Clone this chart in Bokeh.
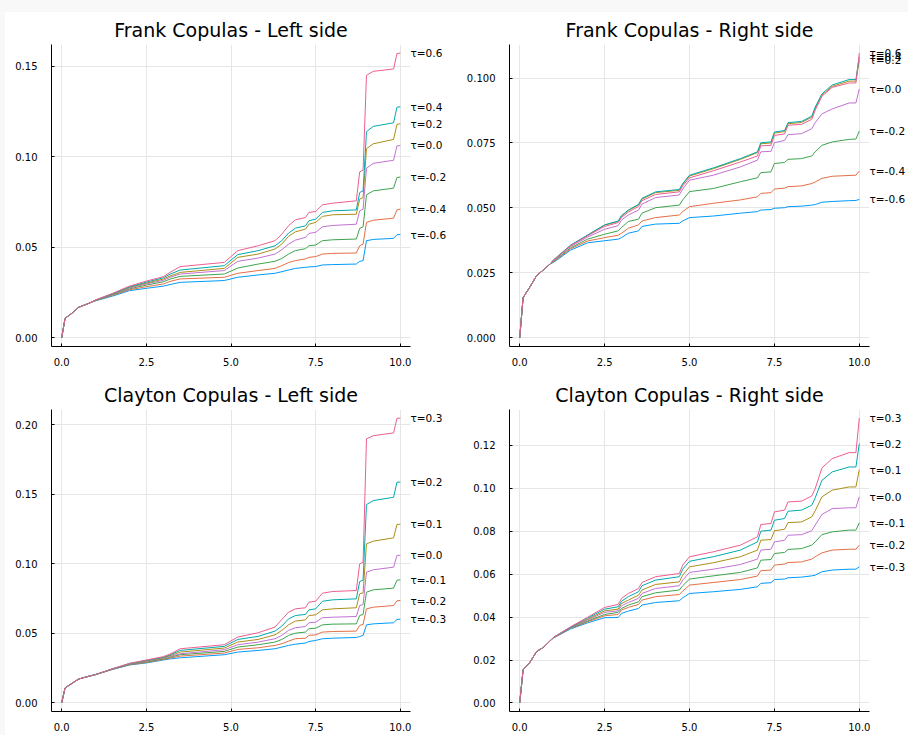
from bokeh.plotting import figure
from bokeh.layouts import column, row
from bokeh.models import Range1d, LinearAxis, FixedTicker, PrintfTickFormatter, Spacer
from bokeh.embed import file_html
from bokeh.resources import INLINE

# ---------------- data ----------------
TAU_FRANK = [-0.6, -0.4, -0.2, 0.0, 0.2, 0.4, 0.6]
TAU_CLAYTON = [-0.3, -0.2, -0.1, 0.0, 0.1, 0.2, 0.3]

X_TICKS = [0.0, 2.5, 5.0, 7.5, 10.0]
FL_YTICKS = [0.00, 0.05, 0.10, 0.15]
FR_YTICKS = [0.000, 0.025, 0.050, 0.075, 0.100]
CL_YTICKS = [0.00, 0.05, 0.10, 0.15, 0.20]
CR_YTICKS = [0.00, 0.02, 0.04, 0.06, 0.08, 0.10, 0.12]

# Left-side panels share these x positions
LEFT_X = [0, 0.1, 0.3, 0.5, 0.8, 1.0, 1.5, 2.0, 2.5, 3.0, 3.2, 3.5, 4.8, 5.2, 5.8, 6.3,
          6.5, 6.7, 6.9, 7.2, 7.3, 7.5, 7.7, 8.0, 8.7, 8.8, 8.9, 9.0, 9.2, 9.8, 9.9, 10.0]
# Right-side panels share these x positions
RIGHT_X = [0, 0.1, 0.3, 0.5, 0.7, 0.9, 1.0, 1.5, 2.0, 2.5, 2.9, 3.0, 3.2, 3.5, 3.6, 4.0,
           4.7, 4.8, 5.0, 5.7, 6.5, 7.0, 7.1, 7.4, 7.5, 7.8, 7.9, 8.3, 8.6, 8.7, 8.9, 9.2,
           9.7, 9.9, 10.0]

# Frank copulas - left side
FL_M06 = [0, .0108, .0136, .0169, .0191, .0205, .0231, .0261, .0274, .0286, .0295, .0307, .0317, .0335, .0348, .0357,
          .0366, .0375, .0384, .0390, .0392, .0394, .0403, .0405, .0408, .0423, .0427, .0537, .0544, .0550, .0570, .0571]
FL_M04 = [0, .0108, .0136, .0169, .0191, .0206, .0235, .0266, .0283, .0298, .0312, .0326, .0335, .0357, .0372, .0384,
          .0399, .0416, .0427, .0436, .0445, .0449, .0463, .0467, .0469, .0509, .0518, .0638, .0650, .0661, .0707, .0711]
FL_M02 = [0, .0108, .0136, .0169, .0191, .0207, .0238, .0271, .0292, .0310, .0325, .0340, .0353, .0386, .0408, .0423,
          .0439, .0463, .0482, .0493, .0509, .0513, .0537, .0542, .0546, .0605, .0614, .0790, .0812, .0827, .0885, .0889]
FL_P00 = [0, .0108, .0136, .0169, .0191, .0208, .0240, .0275, .0298, .0318, .0335, .0353, .0372, .0423, .0441, .0463,
          .0487, .0518, .0540, .0555, .0577, .0583, .0614, .0621, .0628, .0702, .0711, .0937, .0964, .0981, .1060, .1063]
FL_P02 = [0, .0108, .0136, .0169, .0191, .0208, .0242, .0279, .0303, .0325, .0342, .0362, .0384, .0445, .0463, .0491,
          .0518, .0561, .0586, .0601, .0628, .0638, .0671, .0680, .0683, .0766, .0775, .1045, .1072, .1096, .1179, .1183]
FL_P04 = [0, .0108, .0136, .0169, .0191, .0209, .0244, .0282, .0308, .0332, .0352, .0375, .0399, .0460, .0482, .0509,
          .0537, .0579, .0606, .0619, .0647, .0656, .0693, .0702, .0707, .0803, .0812, .1139, .1168, .1188, .1274, .1276]
FL_P06 = [0, .0108, .0136, .0169, .0191, .0210, .0246, .0286, .0314, .0338, .0362, .0394, .0417, .0482, .0509, .0537,
          .0573, .0620, .0652, .0665, .0693, .0698, .0735, .0744, .0757, .0917, .0926, .1450, .1472, .1485, .1570, .1573]

# Frank copulas - right side
FR_M06 = [0, .0155, .0196, .0240, .0262, .0285, .0291, .0338, .0366, .0374, .0380, .0386, .0403, .0412, .0429, .0438,
          .0441, .0450, .0463, .0469, .0480, .0486, .0492, .0494, .0499, .0501, .0505, .0507, .0511, .0513, .0522, .0525,
          .0528, .0529, .0533]
FR_M04 = [0, .0155, .0196, .0240, .0262, .0285, .0293, .0343, .0373, .0386, .0395, .0403, .0422, .0435, .0450, .0463,
          .0473, .0486, .0505, .0518, .0531, .0543, .0556, .0559, .0573, .0576, .0582, .0585, .0594, .0600, .0614, .0622,
          .0625, .0626, .0642]
FR_M02 = [0, .0155, .0196, .0240, .0262, .0285, .0295, .0347, .0380, .0399, .0412, .0425, .0448, .0457, .0480, .0501,
          .0511, .0531, .0563, .0575, .0601, .0616, .0636, .0639, .0671, .0675, .0687, .0690, .0700, .0716, .0741, .0754,
          .0764, .0765, .0796]
FR_P00 = [0, .0155, .0196, .0240, .0262, .0285, .0298, .0352, .0388, .0418, .0432, .0454, .0473, .0492, .0515, .0540,
          .0550, .0573, .0607, .0626, .0658, .0684, .0716, .0718, .0751, .0760, .0782, .0786, .0805, .0828, .0862, .0881,
          .0904, .0904, .0958]
FR_P02 = [0, .0155, .0196, .0240, .0262, .0285, .0300, .0356, .0395, .0434, .0448, .0469, .0490, .0512, .0534, .0559,
          .0568, .0591, .0623, .0651, .0687, .0713, .0747, .0750, .0788, .0794, .0824, .0829, .0849, .0884, .0934, .0968,
          .0988, .0988, .1068]
FR_P04 = [0, .0155, .0196, .0240, .0262, .0285, .0301, .0357, .0396, .0435, .0450, .0471, .0492, .0514, .0537, .0562,
          .0571, .0594, .0626, .0654, .0690, .0716, .0751, .0754, .0792, .0798, .0828, .0833, .0853, .0888, .0939, .0973,
          .0994, .0994, .1082]
FR_P06 = [0, .0155, .0196, .0240, .0262, .0285, .0300, .0355, .0393, .0429, .0444, .0464, .0484, .0506, .0528, .0552,
          .0562, .0585, .0616, .0643, .0677, .0700, .0739, .0741, .0779, .0785, .0818, .0822, .0841, .0876, .0930, .0964,
          .0981, .0981, .1096]

# Clayton copulas - left side
CL_M03 = [0, .0108, .0140, .0172, .0192, .0204, .0241, .0273, .0288, .0309, .0317, .0325, .0347, .0366, .0378, .0390,
          .0402, .0414, .0423, .0431, .0442, .0450, .0462, .0466, .0471, .0478, .0486, .0562, .0569, .0577, .0601, .0603]
CL_M02 = [0, .0108, .0140, .0172, .0192, .0204, .0242, .0275, .0291, .0313, .0323, .0337, .0359, .0385, .0397, .0414,
          .0426, .0445, .0462, .0466, .0486, .0490, .0510, .0514, .0517, .0558, .0565, .0677, .0689, .0701, .0735, .0737]
CL_M01 = [0, .0108, .0140, .0172, .0192, .0204, .0243, .0277, .0295, .0317, .0329, .0347, .0371, .0402, .0419, .0438,
          .0457, .0486, .0502, .0510, .0534, .0538, .0562, .0567, .0569, .0629, .0637, .0797, .0814, .0826, .0883, .0886]
CL_P00 = [0, .0108, .0140, .0172, .0192, .0204, .0244, .0279, .0299, .0321, .0334, .0354, .0383, .0419, .0438, .0462,
          .0486, .0522, .0541, .0550, .0577, .0581, .0613, .0617, .0622, .0701, .0708, .0941, .0958, .0977, .1061, .1063]
CL_P01 = [0, .0108, .0140, .0172, .0192, .0204, .0245, .0281, .0302, .0325, .0340, .0366, .0395, .0438, .0457, .0490,
          .0522, .0562, .0589, .0598, .0629, .0634, .0670, .0677, .0685, .0785, .0792, .1145, .1164, .1188, .1284, .1286]
CL_P02 = [0, .0108, .0140, .0172, .0192, .0204, .0245, .0283, .0306, .0329, .0346, .0378, .0407, .0457, .0479, .0517,
          .0553, .0605, .0629, .0637, .0670, .0677, .0732, .0742, .0749, .0874, .0883, .1427, .1456, .1480, .1588, .1590]
CL_P03 = [0, .0108, .0140, .0172, .0192, .0204, .0246, .0285, .0309, .0333, .0352, .0390, .0419, .0474, .0505, .0546,
          .0601, .0653, .0677, .0685, .0725, .0732, .0790, .0802, .0809, .1001, .1013, .1900, .1923, .1943, .2048, .2050]

# Clayton copulas - right side
CR_M03 = [0, .0154, .0189, .0240, .0259, .0290, .0303, .0345, .0373, .0397, .0398, .0417, .0428, .0440, .0456, .0468,
          .0476, .0490, .0510, .0518, .0529, .0541, .0557, .0560, .0575, .0577, .0583, .0586, .0592, .0595, .0611, .0619,
          .0623, .0623, .0634]
CR_M02 = [0, .0154, .0189, .0240, .0259, .0290, .0304, .0347, .0378, .0406, .0412, .0433, .0445, .0459, .0479, .0495,
          .0505, .0521, .0549, .0561, .0575, .0591, .0616, .0619, .0642, .0647, .0654, .0657, .0670, .0681, .0699, .0712,
          .0716, .0716, .0735]
CR_M01 = [0, .0154, .0189, .0240, .0259, .0290, .0305, .0348, .0382, .0412, .0422, .0440, .0456, .0471, .0495, .0513,
          .0526, .0546, .0577, .0592, .0608, .0629, .0665, .0668, .0696, .0701, .0715, .0719, .0735, .0750, .0784, .0797,
          .0805, .0805, .0839]
CR_P00 = [0, .0154, .0189, .0240, .0259, .0290, .0305, .0350, .0386, .0422, .0429, .0453, .0468, .0487, .0510, .0533,
          .0546, .0572, .0608, .0623, .0645, .0670, .0712, .0716, .0750, .0758, .0781, .0784, .0802, .0828, .0878, .0905,
          .0909, .0909, .0960]
CR_P01 = [0, .0154, .0189, .0240, .0259, .0290, .0306, .0352, .0390, .0429, .0437, .0464, .0479, .0502, .0526, .0552,
          .0564, .0595, .0634, .0653, .0681, .0712, .0758, .0761, .0802, .0809, .0840, .0843, .0867, .0895, .0960, .0991,
          .1006, .1006, .1087]
CR_P02 = [0, .0154, .0189, .0240, .0259, .0290, .0306, .0353, .0395, .0437, .0448, .0474, .0495, .0518, .0546, .0572,
          .0588, .0623, .0660, .0681, .0712, .0750, .0800, .0805, .0851, .0859, .0893, .0898, .0921, .0955, .1037, .1076,
          .1099, .1099, .1208]
CR_P03 = [0, .0154, .0189, .0240, .0259, .0290, .0306, .0355, .0399, .0445, .0459, .0487, .0510, .0533, .0561, .0588,
          .0603, .0642, .0681, .0704, .0735, .0774, .0831, .0836, .0890, .0898, .0936, .0940, .0964, .0998, .1095, .1138,
          .1166, .1166, .1327]

COLORS = ["#009AFA", "#E36F47", "#3EA44E", "#C371D2", "#AC8E18", "#00AAAE", "#ED5E93"]
FONT = "DejaVu Sans"
PAGE_BG = "#f8f8f8"


def make_panel(title, xs, series, taus, yticks, yfmt, width, height, left, right, top):
    ymax = max(max(s) for s in series)
    pad = 0.03 * ymax
    p = figure(width=width, height=height, output_backend="svg", toolbar_location=None,
               x_range=Range1d(-0.3, 10.3), y_range=Range1d(-pad, ymax + pad),
               min_border_left=left, min_border_right=right, min_border_top=top, min_border_bottom=24)
    p.outline_line_color = None
    p.background_fill_color = "white"
    p.border_fill_color = "white"
    p.title.text = title
    p.title.align = "center"
    p.title.text_font = FONT
    p.title.text_font_size = "19px"
    p.title.text_font_style = "normal"
    p.title.text_color = "black"
    p.title.standoff = 8

    for s, c in zip(series, COLORS):
        p.line(xs, s, line_color=c, line_width=1)

    # end-of-line labels, drawn as the labels of a bare right-hand axis
    ends = [s[-1] for s in series]
    lab_axis = LinearAxis(ticker=FixedTicker(ticks=ends),
                          major_label_overrides={e: "τ=%.1f" % t for e, t in zip(ends, taus)})
    lab_axis.axis_line_color = None
    lab_axis.major_tick_line_color = None
    lab_axis.minor_tick_line_color = None
    lab_axis.major_tick_in = 0
    lab_axis.major_tick_out = 0
    lab_axis.major_label_standoff = 0
    lab_axis.major_label_text_font = FONT
    lab_axis.major_label_text_font_size = "10.5px"
    lab_axis.major_label_text_color = "black"
    p.add_layout(lab_axis, "right")

    p.xaxis.ticker = FixedTicker(ticks=X_TICKS)
    p.xaxis.formatter = PrintfTickFormatter(format="%.1f")
    p.yaxis[0].ticker = FixedTicker(ticks=yticks)
    p.yaxis[0].formatter = PrintfTickFormatter(format=yfmt)
    for ax in (p.xaxis[0], p.yaxis[0]):
        ax.axis_line_color = "black"
        ax.axis_line_width = 1
        ax.major_tick_line_color = "black"
        ax.major_tick_in = 3
        ax.major_tick_out = 0
        ax.minor_tick_line_color = None
        ax.major_label_text_font = FONT
        ax.major_label_text_font_size = "10px"
        ax.major_label_text_color = "black"
    p.xaxis[0].major_label_standoff = 11
    p.yaxis[0].major_label_standoff = 14
    p.xgrid.grid_line_color = "#e6e6e6"
    p.ygrid[0].grid_line_color = "#e6e6e6"
    p.ygrid[0].ticker = p.yaxis[0].ticker
    return p


p1 = make_panel("Frank Copulas - Left side", LEFT_X,
                [FL_M06, FL_M04, FL_M02, FL_P00, FL_P02, FL_P04, FL_P06], TAU_FRANK,
                FL_YTICKS, "%.2f", 453, 358, 46, 48, 32)
p2 = make_panel("Frank Copulas - Right side", RIGHT_X,
                [FR_M06, FR_M04, FR_M02, FR_P00, FR_P02, FR_P04, FR_P06], TAU_FRANK,
                FR_YTICKS, "%.3f", 450, 358, 51, 39, 32)
p3 = make_panel("Clayton Copulas - Left side", LEFT_X,
                [CL_M03, CL_M02, CL_M01, CL_P00, CL_P01, CL_P02, CL_P03], TAU_CLAYTON,
                CL_YTICKS, "%.2f", 453, 365, 46, 48, 39)
p4 = make_panel("Clayton Copulas - Right side", RIGHT_X,
                [CR_M03, CR_M02, CR_M01, CR_P00, CR_P01, CR_P02, CR_P03], TAU_CLAYTON,
                CR_YTICKS, "%.2f", 450, 365, 51, 39, 39)

top_pad = Spacer(width=908, height=12, styles={"background-color": PAGE_BG})
left_pad1 = Spacer(width=5, height=358, styles={"background-color": PAGE_BG})
left_pad2 = Spacer(width=5, height=365, styles={"background-color": PAGE_BG})

layout = column(top_pad, row(left_pad1, p1, p2), row(left_pad2, p3, p4))
open("out.html", "w").write(file_html(layout, INLINE))
